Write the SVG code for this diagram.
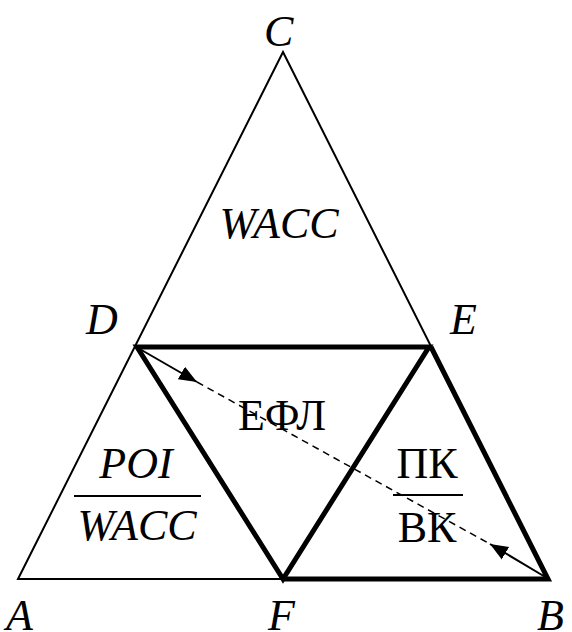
<svg xmlns="http://www.w3.org/2000/svg" width="572" height="632" viewBox="0 0 572 632">
<defs>
<style>
.thin{stroke:#000;stroke-width:2;fill:none}
.thick{stroke:#000;stroke-width:5;fill:none}
.dash{stroke:#000;stroke-width:1.5;stroke-dasharray:7 5;fill:none}
.t{font-family:"Liberation Serif",serif;font-size:44px;fill:#000}
.i{font-style:italic}
</style>
<marker id="ah" viewBox="0 0 10 10" refX="10" refY="5" markerWidth="18" markerHeight="18" markerUnits="userSpaceOnUse" orient="auto">
<path d="M0,1 L10,5 L0,9 Z" fill="#000"/>
</marker>
</defs>
<rect width="572" height="632" fill="#fff"/>
<g id="outer">
<path class="thin" d="M18,579 L283,52 L548,579 Z"/>
</g>
<g id="inner">
<path class="thick" d="M137,347 L429,347 L283,579 Z"/>
<path class="thick" d="M431,347 L548,579 L283,579"/>
</g>
<g id="connectors">
<path class="dash" d="M197,382 L490,544"/>
<path class="thin" d="M138,348 L197,382" marker-end="url(#ah)"/>
<path class="thin" d="M547,578 L490,544" marker-end="url(#ah)"/>
</g>
<g id="labels">
<text class="t i" x="264" y="46">C</text>
<text class="t i" x="86" y="334">D</text>
<text class="t i" x="450" y="334">E</text>
<text class="t i" x="6" y="630">A</text>
<text class="t i" x="268" y="630">F</text>
<text class="t i" x="537" y="630">B</text>
</g>
<g id="top-region">
<text class="t i" x="279" y="238" text-anchor="middle">WACC</text>
</g>
<g id="center-region">
<text class="t" x="282" y="430" text-anchor="middle">ЕФЛ</text>
</g>
<g id="left-region">
<text class="t i" x="136" y="478" text-anchor="middle">POI</text>
<line class="thin" x1="74" y1="496" x2="201" y2="496"/>
<text class="t i" x="137" y="540" text-anchor="middle">WACC</text>
</g>
<g id="right-region">
<text class="t" x="427" y="478" text-anchor="middle">ПК</text>
<line class="thin" x1="393" y1="495" x2="463" y2="495"/>
<text class="t" x="427" y="542" text-anchor="middle">ВК</text>
</g>
</svg>
